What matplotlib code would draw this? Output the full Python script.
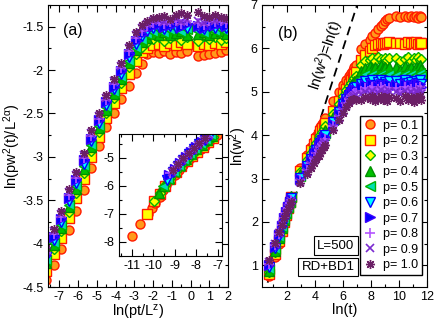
"""Two panels: scaling collapse (a) and raw ln(w^2) vs ln(t) (b) for RD+BD1, L=500."""

import matplotlib
matplotlib.use("Agg")
import matplotlib.pyplot as plt
from matplotlib.lines import Line2D

plt.rcParams["font.family"] = ["Liberation Sans", "DejaVu Sans"]
plt.rcParams["mathtext.default"] = "regular"

P_LABELS = ["p= 0.1", "p= 0.2", "p= 0.3", "p= 0.4", "p= 0.5",
            "p= 0.6", "p= 0.7", "p= 0.8", "p= 0.9", "p= 1.0"]

# ---- panel (b): ln(t) sample points, five runs ----
LNT = [0.69, 1.10, 1.39, 1.61, 1.79, 1.95, 2.08, 2.20, 2.30,
       2.95, 3.40, 3.69, 3.91, 4.09, 4.25, 4.38, 4.50, 4.60, 4.70,
       5.30, 5.70, 5.99, 6.21, 6.40, 6.55, 6.68, 6.80, 6.91,
       7.30, 7.60, 7.90, 8.10, 8.30, 8.50, 8.70, 8.85, 9.00, 9.15, 9.30,
       9.80, 10.10, 10.40, 10.65, 10.85, 11.05, 11.20, 11.35, 11.50, 11.60]

W2_P01 = [0.76, 1.20, 1.50, 1.76, 1.98, 2.15, 2.30, 2.45, 2.57,
          3.24, 3.54, 3.73, 3.87, 3.99, 4.10, 4.19, 4.26, 4.33, 4.39,
          4.78, 5.00, 5.15, 5.27, 5.36, 5.44, 5.50, 5.56, 5.61,
          5.98, 6.10, 6.20, 6.28, 6.36, 6.44, 6.51, 6.57, 6.62, 6.67, 6.70,
          6.74, 6.73, 6.75, 6.72, 6.74, 6.73, 6.75, 6.71, 6.74, 6.72]
W2_P02 = [0.80, 1.25, 1.55, 1.80, 2.00, 2.17, 2.32, 2.46, 2.58,
          3.18, 3.47, 3.65, 3.79, 3.91, 4.01, 4.09, 4.16, 4.22, 4.28,
          4.55, 4.78, 4.95, 5.07, 5.17, 5.26, 5.33, 5.40, 5.45,
          5.73, 5.85, 5.95, 6.02, 6.07, 6.10, 6.12, 6.11, 6.13, 6.12, 6.14,
          6.12, 6.13, 6.11, 6.14, 6.12, 6.13, 6.15, 6.11, 6.12, 6.13]
W2_P03 = [0.84, 1.30, 1.60, 1.83, 2.02, 2.18, 2.33, 2.46, 2.58,
          3.14, 3.42, 3.59, 3.72, 3.83, 3.93, 4.01, 4.08, 4.14, 4.20,
          4.48, 4.72, 4.90, 5.03, 5.13, 5.21, 5.27, 5.32, 5.36,
          5.62, 5.70, 5.74, 5.78, 5.72, 5.80, 5.75, 5.69, 5.78, 5.74, 5.77,
          5.78, 5.72, 5.76, 5.80, 5.70, 5.77, 5.74, 5.79, 5.73, 5.76]
W2_P04 = [0.88, 1.34, 1.63, 1.86, 2.04, 2.20, 2.34, 2.47, 2.59,
          3.10, 3.37, 3.54, 3.66, 3.77, 3.87, 3.94, 4.01, 4.07, 4.13,
          4.42, 4.66, 4.84, 4.97, 5.07, 5.15, 5.21, 5.25, 5.28,
          5.48, 5.55, 5.60, 5.52, 5.58, 5.50, 5.62, 5.54, 5.57, 5.49, 5.56,
          5.56, 5.50, 5.60, 5.53, 5.58, 5.48, 5.57, 5.55, 5.61, 5.52]
W2_P05 = [0.92, 1.37, 1.66, 1.88, 2.06, 2.21, 2.34, 2.46, 2.57,
          3.06, 3.32, 3.49, 3.61, 3.72, 3.81, 3.88, 3.95, 4.01, 4.06,
          4.36, 4.60, 4.78, 4.90, 5.00, 5.08, 5.14, 5.18, 5.20,
          5.32, 5.40, 5.35, 5.42, 5.37, 5.30, 5.41, 5.36, 5.39, 5.33, 5.40,
          5.38, 5.33, 5.42, 5.36, 5.40, 5.31, 5.39, 5.35, 5.43, 5.37]
W2_P06 = [0.96, 1.40, 1.68, 1.90, 2.07, 2.21, 2.34, 2.45, 2.55,
          3.02, 3.28, 3.44, 3.56, 3.66, 3.75, 3.82, 3.89, 3.95, 4.00,
          4.30, 4.54, 4.71, 4.83, 4.93, 5.00, 5.05, 5.08, 5.10,
          5.18, 5.24, 5.20, 5.27, 5.15, 5.22, 5.26, 5.19, 5.23, 5.17, 5.25,
          5.24, 5.18, 5.26, 5.20, 5.22, 5.16, 5.25, 5.21, 5.27, 5.19]
W2_P07 = [1.00, 1.43, 1.70, 1.91, 2.08, 2.22, 2.34, 2.44, 2.53,
          2.99, 3.24, 3.40, 3.52, 3.62, 3.71, 3.78, 3.84, 3.90, 3.95,
          4.26, 4.49, 4.66, 4.78, 4.88, 4.95, 5.00, 5.03, 5.05,
          5.10, 5.16, 5.12, 5.18, 5.08, 5.14, 5.19, 5.11, 5.15, 5.09, 5.17,
          5.16, 5.10, 5.18, 5.12, 5.15, 5.08, 5.17, 5.13, 5.19, 5.11]
W2_P08 = [1.04, 1.46, 1.72, 1.92, 2.08, 2.21, 2.33, 2.43, 2.51,
          2.96, 3.20, 3.36, 3.48, 3.58, 3.66, 3.73, 3.79, 3.85, 3.90,
          4.22, 4.45, 4.61, 4.73, 4.83, 4.90, 4.95, 4.97, 4.98,
          5.02, 5.08, 5.04, 5.10, 5.00, 5.06, 5.11, 5.03, 5.07, 5.01, 5.09,
          5.08, 5.02, 5.10, 5.04, 5.07, 5.00, 5.09, 5.05, 5.11, 5.03]
W2_P09 = [1.08, 1.49, 1.74, 1.93, 2.08, 2.21, 2.32, 2.41, 2.49,
          2.93, 3.16, 3.31, 3.43, 3.53, 3.61, 3.68, 3.74, 3.80, 3.85,
          4.18, 4.40, 4.56, 4.68, 4.78, 4.85, 4.89, 4.91, 4.92,
          4.94, 5.00, 4.96, 5.02, 4.92, 4.98, 5.03, 4.95, 4.99, 4.93, 5.01,
          5.00, 4.94, 5.02, 4.96, 4.99, 4.92, 5.01, 4.97, 5.03, 4.95]
W2_P10 = [1.12, 1.52, 1.76, 1.94, 2.08, 2.20, 2.30, 2.39, 2.46,
          2.89, 3.10, 3.24, 3.35, 3.45, 3.53, 3.60, 3.66, 3.72, 3.78,
          4.12, 4.35, 4.52, 4.64, 4.74, 4.80, 4.83, 4.84, 4.82,
          4.80, 4.88, 4.83, 4.90, 4.78, 4.86, 4.91, 4.81, 4.87, 4.79, 4.88,
          4.86, 4.79, 4.90, 4.82, 4.87, 4.77, 4.89, 4.84, 4.91, 4.80]
W2_ALL = [W2_P01, W2_P02, W2_P03, W2_P04, W2_P05,
          W2_P06, W2_P07, W2_P08, W2_P09, W2_P10]

# ---- panel (a): collapsed data ----
A_X = [-7.7, -7.3, -6.9, -6.5, -6.1, -5.7, -5.3, -4.9, -4.5, -4.1, -3.7, -3.3, -2.9, -2.6,
       -2.3, -2.0, -1.7, -1.4, -1.1, -0.8, -0.5, -0.2, 0.4, 0.7, 1.0, 1.3, 1.6, 1.9]
A_P01 = [-4.42, -4.25, -4.06, -3.84, -3.62, -3.38, -3.13, -2.88, -2.66, -2.50, -2.33, -2.18, -2.03, -1.93,
         -1.82, -1.79, -1.80, -1.78, -1.81, -1.79, -1.80, -1.78, -1.84, -1.83, -1.81, -1.80, -1.79, -1.77]
A_P02 = [-4.31, -4.12, -3.93, -3.70, -3.48, -3.25, -3.00, -2.77, -2.55, -2.38, -2.21, -2.04, -1.89, -1.79,
         -1.74, -1.71, -1.70, -1.72, -1.69, -1.71, -1.68, -1.70, -1.72, -1.70, -1.71, -1.69, -1.70, -1.68]
A_P03 = [-4.25, -4.06, -3.86, -3.63, -3.42, -3.19, -2.93, -2.71, -2.49, -2.32, -2.15, -1.97, -1.82, -1.73,
         -1.68, -1.64, -1.62, -1.66, -1.63, -1.60, -1.65, -1.62, -1.66, -1.61, -1.64, -1.62, -1.65, -1.63]
A_P04 = [-4.22, -4.02, -3.82, -3.58, -3.37, -3.14, -2.89, -2.67, -2.46, -2.28, -2.10, -1.92, -1.77, -1.68,
         -1.63, -1.58, -1.60, -1.56, -1.59, -1.57, -1.55, -1.60, -1.58, -1.56, -1.59, -1.57, -1.55, -1.58]
A_P05 = [-4.19, -3.99, -3.79, -3.55, -3.34, -3.11, -2.86, -2.64, -2.43, -2.25, -2.08, -1.89, -1.74, -1.65,
         -1.58, -1.56, -1.53, -1.57, -1.54, -1.52, -1.56, -1.53, -1.55, -1.57, -1.52, -1.55, -1.53, -1.56]
A_P06 = [-4.16, -3.96, -3.75, -3.51, -3.30, -3.08, -2.82, -2.61, -2.40, -2.22, -2.04, -1.85, -1.70, -1.61,
         -1.55, -1.52, -1.50, -1.53, -1.49, -1.51, -1.48, -1.52, -1.50, -1.53, -1.49, -1.51, -1.48, -1.52]
A_P07 = [-4.13, -3.92, -3.72, -3.47, -3.27, -3.04, -2.79, -2.58, -2.37, -2.19, -2.01, -1.81, -1.66, -1.58,
         -1.52, -1.49, -1.47, -1.50, -1.48, -1.46, -1.50, -1.47, -1.49, -1.51, -1.47, -1.48, -1.46, -1.49]
A_P08 = [-4.11, -3.89, -3.69, -3.44, -3.24, -3.01, -2.76, -2.56, -2.35, -2.16, -1.98, -1.78, -1.63, -1.55,
         -1.49, -1.46, -1.44, -1.47, -1.45, -1.43, -1.47, -1.44, -1.46, -1.48, -1.44, -1.45, -1.43, -1.46]
A_P09 = [-4.08, -3.86, -3.66, -3.41, -3.21, -2.98, -2.73, -2.53, -2.32, -2.13, -1.95, -1.75, -1.60, -1.52,
         -1.47, -1.44, -1.42, -1.45, -1.43, -1.41, -1.45, -1.42, -1.44, -1.46, -1.42, -1.43, -1.41, -1.44]
A_P10 = [-4.05, -3.83, -3.62, -3.37, -3.17, -2.95, -2.69, -2.50, -2.29, -2.10, -1.92, -1.71, -1.56, -1.48,
         -1.44, -1.40, -1.39, -1.38, -1.41, -1.37, -1.34, -1.36, -1.33, -1.38, -1.39, -1.36, -1.39, -1.40]
A_ALL = [A_P01, A_P02, A_P03, A_P04, A_P05, A_P06, A_P07, A_P08, A_P09, A_P10]

# ---- inset of panel (a): early-time part ----
IN_X = [
    [-11.0, -10.6, -10.25, -10.05, -9.9, -9.7, -9.55, -9.4, -9.2, -9.0, -8.8, -8.6, -8.4, -8.2, -8.0, -7.8, -7.6, -7.4, -7.2, -7.05],
    [-10.3, -9.95, -9.7, -9.45, -9.2, -8.95, -8.7, -8.45, -8.2, -7.95, -7.7, -7.45, -7.2],
    [-9.95, -9.7, -9.45, -9.2, -8.95, -8.7, -8.45, -8.2, -7.95, -7.7, -7.45, -7.2],
    [-9.75, -9.5, -9.25, -9.0, -8.75, -8.5, -8.25, -8.0, -7.75, -7.5, -7.25],
    [-9.55, -9.3, -9.05, -8.8, -8.55, -8.3, -8.05, -7.8, -7.55, -7.3],
    [-9.35, -9.1, -8.85, -8.6, -8.35, -8.1, -7.85, -7.6, -7.35],
    [-9.25, -9.0, -8.75, -8.5, -8.25, -8.0, -7.75, -7.5],
    [-9.2, -8.95, -8.7, -8.45, -8.2, -7.95, -7.7, -7.45],
    [-9.15, -8.9, -8.65, -8.4, -8.15, -7.9, -7.65, -7.4],
    [-9.1, -8.85, -8.6, -8.35, -8.1, -7.85, -7.6],
]
IN_Y = [
    [-7.79, -7.36, -7.02, -6.79, -6.6, -6.38, -6.15, -5.98, -5.78, -5.6, -5.43, -5.27, -5.11, -4.97, -4.84, -4.70, -4.57, -4.43, -4.28, -4.18],
    [-7.0, -6.55, -6.3, -6.02, -5.74, -5.52, -5.3, -5.1, -4.93, -4.78, -4.6, -4.45, -4.28],
    [-6.55, -6.25, -5.98, -5.72, -5.48, -5.26, -5.06, -4.9, -4.72, -4.55, -4.4, -4.24],
    [-6.25, -6.0, -5.72, -5.48, -5.26, -5.05, -4.88, -4.7, -4.53, -4.38, -4.22],
    [-6.02, -5.75, -5.5, -5.28, -5.06, -4.88, -4.7, -4.52, -4.36, -4.2],
    [-5.78, -5.52, -5.3, -5.07, -4.88, -4.7, -4.52, -4.35, -4.2],
    [-5.62, -5.4, -5.18, -4.98, -4.8, -4.62, -4.45, -4.28],
    [-5.55, -5.33, -5.12, -4.93, -4.75, -4.57, -4.4, -4.24],
    [-5.5, -5.28, -5.08, -4.89, -4.71, -4.53, -4.36, -4.2],
    [-5.43, -5.22, -5.02, -4.84, -4.66, -4.48, -4.3],
]

# marker styles (Grace-like)
STYLES = [
    dict(marker="o", mfc="#ff9a1a", mec="#ff1a00"),
    dict(marker="s", mfc="#ffff00", mec="#ff1a00"),
    dict(marker="D", mfc="#ffff00", mec="#00b000", ms=5.2),
    dict(marker="^", mfc="#00c000", mec="#009000"),
    dict(marker="<", mfc="#00e0b0", mec="#00b000"),
    dict(marker="v", mfc="#00ffff", mec="#0000ff"),
    dict(marker=">", mfc="#0000ff", mec="#3a00ff"),
    dict(marker="+", mfc="none", mec="#b455ff", mew=1.2),
    dict(marker="x", mfc="none", mec="#7a2ad0", mew=1.2, ms=5.5),
    dict(marker=(8, 2, 0), mfc="#6b1f66", mec="#6b1f66", mew=1.0),
]


def style(i, ms=6.5):
    s = dict(ls="none", ms=ms, mew=1.0)
    s.update(STYLES[i])
    return s


def ticks_in(ax):
    ax.tick_params(which="both", direction="in", top=True, right=True, labelsize=9, pad=3)
    ax.tick_params(which="major", length=5, width=0.8)
    ax.tick_params(which="minor", length=2.5, width=0.8)


fig = plt.figure(figsize=(4.36, 3.21), dpi=100)

# ---------------- panel (a) ----------------
ax1 = fig.add_axes([48 / 436, 34 / 321, 180 / 436, 282 / 321])
for i in range(10):
    ax1.plot(A_X, A_ALL[i], **style(i))
ax1.set_xlim(-7.6, 2)
ax1.set_ylim(-4.5, -1.25)
ax1.set_xticks(range(-7, 3))
ax1.set_xticks([v + 0.5 for v in range(-8, 2)], minor=True)
ax1.set_yticks([-4.5, -4, -3.5, -3, -2.5, -2, -1.5])
ax1.set_yticklabels(["-4.5", "-4", "-3.5", "-3", "-2.5", "-2", "-1.5"])
ax1.set_yticks([-4.25, -3.75, -3.25, -2.75, -2.25, -1.75, -1.25], minor=True)
ax1.set_xticklabels([str(v) if v >= 0 else "-%d" % -v for v in range(-7, 3)])
ticks_in(ax1)
ax1.set_xlabel("ln(pt/L$^z$)", fontsize=10.5, labelpad=0)
ax1.set_ylabel(r"ln(pw$^2$(t)/L$^{2\alpha}$)", fontsize=10.5, labelpad=0)
ax1.text(0.083, 0.91, "(a)", transform=ax1.transAxes, fontsize=11.5, va="center")

# inset
axi = fig.add_axes([119 / 436, 65 / 321, 103 / 436, 122 / 321])
axi.set_zorder(3)
for i in range(10):
    axi.plot(IN_X[i], IN_Y[i], **style(i))
axi.set_xlim(-11.6, -6.8)
axi.set_ylim(-8.5, -4.15)
axi.set_xticks([-11, -10, -9, -8, -7])
axi.set_xticklabels(["-11", "-10", "-9", "-8", "-7"])
axi.set_xticks([-11.5, -10.5, -9.5, -8.5, -7.5], minor=True)
axi.set_yticks([-8, -7, -6, -5])
axi.set_yticklabels(["-8", "-7", "-6", "-5"])
axi.set_yticks([-8.5, -7.5, -6.5, -5.5, -4.5], minor=True)
ticks_in(axi)

# ---------------- panel (b) ----------------
ax2 = fig.add_axes([262 / 436, 34 / 321, 165 / 436, 282 / 321])
ax2.plot([0.6, 7.2], [0.6, 7.2], color="black", ls=(0, (5, 3)), lw=1.3)
for i in range(10):
    ax2.plot(LNT, W2_ALL[i], **style(i))
ax2.set_xlim(0.2, 12)
ax2.set_ylim(0.5, 7)
ax2.set_xticks([2, 4, 6, 8, 10, 12])
ax2.set_xticks([1, 3, 5, 7, 9, 11], minor=True)
ax2.set_yticks([1, 2, 3, 4, 5, 6, 7])
ax2.set_yticks([1.5, 2.5, 3.5, 4.5, 5.5, 6.5], minor=True)
ticks_in(ax2)
ax2.set_xlabel("ln(t)", fontsize=10.5, labelpad=0)
ax2.set_ylabel("ln(w$^2$)", fontsize=10.5, labelpad=1)
ax2.text(0.097, 0.90, "(b)", transform=ax2.transAxes, fontsize=11.5, va="center")
ax2.text(4.75, 5.85, "ln(w$^2$)=ln(t)", rotation=72, fontsize=10.5,
         ha="center", va="center")

handles = [Line2D([], [], **style(i)) for i in range(10)]
ax2.legend(handles, P_LABELS, loc="upper right", bbox_to_anchor=(0.97, 0.607),
           fontsize=9, frameon=True, fancybox=False, edgecolor="black",
           framealpha=1, handlelength=1.0, handletextpad=0.55, labelspacing=0.28,
           borderpad=0.3, borderaxespad=0)

box = dict(boxstyle="square,pad=0.25", fc="white", ec="black", lw=0.8)
ax2.text(0.56, 0.147, "L=500", transform=ax2.transAxes, ha="right", va="center",
         fontsize=9.5, bbox=box)
ax2.text(0.56, 0.071, "RD+BD1", transform=ax2.transAxes, ha="right", va="center",
         fontsize=9.5, bbox=box)

fig.savefig("out.png", dpi=100)
